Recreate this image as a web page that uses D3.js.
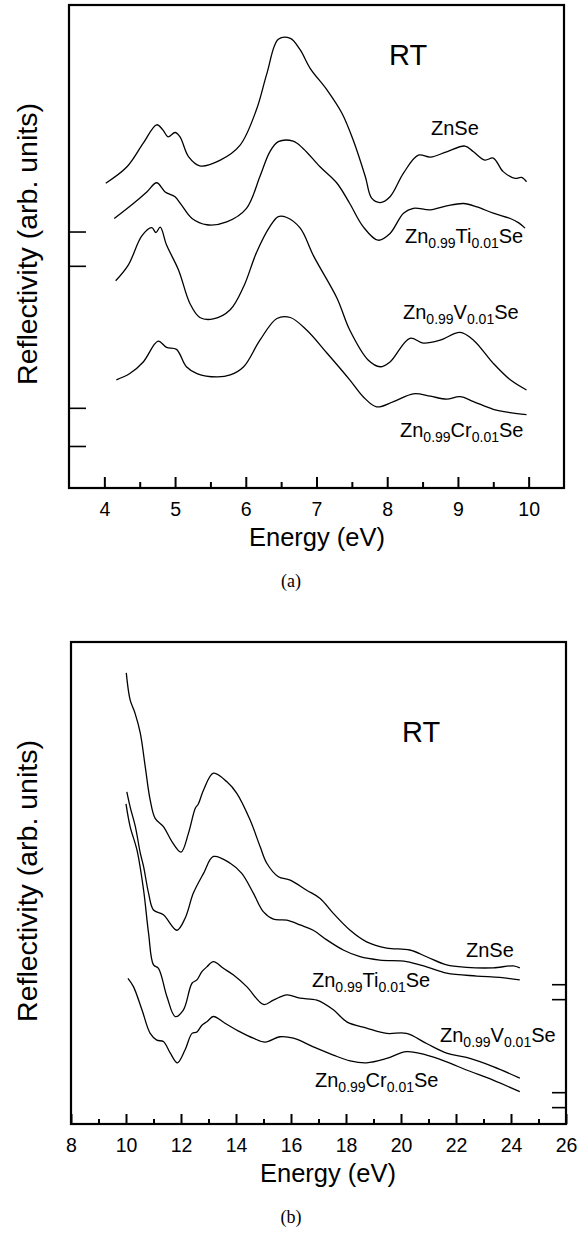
<!DOCTYPE html>
<html><head><meta charset="utf-8">
<script src="https://cdn.jsdelivr.net/npm/d3@7"></script>
<style>
body{margin:0;background:#fff}
text{font-family:"Liberation Sans",Arial,Helvetica,sans-serif;fill:#000}
</style>
</head><body>
<svg id="c" width="578" height="1243"></svg>
<script>
// ---------- DATA: panel (a), 3.5–10.5 eV ----------
const eA_ZnSe = [4.02,4.32,4.55,4.74,4.83,4.90,5.00,5.07,5.19,5.35,5.64,5.92,6.15,6.30,6.46,6.63,6.77,6.91,7.15,7.36,7.52,7.69,7.78,7.90,8.04,8.23,8.44,8.61,8.84,9.10,9.22,9.38,9.50,9.64,9.81,9.90,9.97];
const rA_ZnSe = [63.1,66.5,71.4,75.2,74.1,72.7,73.6,72.7,68.6,66.7,67.9,71.0,78.3,85.9,92.9,93.1,90.7,86.9,82.4,77.6,72.0,64.5,60.0,59.1,60.3,65.2,68.9,68.5,69.6,70.8,69.6,67.9,68.3,65.5,64.1,64.3,63.4];

const eA_Ti = [4.14,4.41,4.60,4.74,4.86,5.00,5.09,5.24,5.45,5.73,6.01,6.20,6.34,6.46,6.67,6.81,7.05,7.29,7.47,7.66,7.87,8.04,8.23,8.37,8.61,8.84,9.08,9.27,9.50,9.74,9.86,9.95];
const rA_Ti = [55.8,58.9,61.3,63.2,61.3,60.3,58.6,55.8,54.5,55.1,57.9,64.5,69.6,71.7,71.8,70.3,66.5,63.1,58.9,54.1,51.3,52.7,56.9,57.9,57.6,58.4,58.9,58.2,56.9,55.8,54.9,53.8];

const eA_V = [4.16,4.34,4.53,4.67,4.73,4.79,4.88,5.05,5.21,5.35,5.54,5.78,5.97,6.15,6.34,6.46,6.58,6.77,6.96,7.29,7.47,7.73,7.90,8.04,8.32,8.51,8.75,9.03,9.22,9.50,9.74,9.97];
const rA_V = [42.9,46.2,52.2,53.9,52.9,54.0,50.3,45.1,38.2,35.3,35.0,36.9,41.7,48.7,54.1,56.2,56.0,53.8,48.0,39.3,32.7,26.5,25.1,26.1,31.0,30.0,30.6,32.2,30.6,25.8,22.4,20.3];

const eA_Cr = [4.17,4.36,4.55,4.76,4.88,5.02,5.16,5.31,5.59,5.78,5.97,6.20,6.44,6.63,6.86,7.15,7.47,7.66,7.85,8.09,8.37,8.61,8.84,9.03,9.22,9.50,9.74,9.97];
const rA_Cr = [22.4,23.7,26.1,30.4,29.1,28.7,25.1,23.7,23.0,23.4,25.1,30.6,35.1,35.3,32.7,27.9,22.4,18.9,16.8,17.9,19.5,19.0,18.4,18.9,17.9,16.3,15.6,15.2];

// ---------- DATA: panel (b), 8–26 eV ----------
const eB_ZnSe = [10.01,10.15,10.33,10.52,10.70,10.88,11.06,11.36,11.67,12.00,12.27,12.52,12.63,12.82,13.18,13.67,14.03,14.51,14.88,15.12,15.54,15.97,16.57,17.06,17.54,18.15,18.75,19.48,20.32,20.93,21.66,22.38,23.35,24.08,24.32];
const rB_ZnSe = [93.6,88.0,85.2,81.1,74.1,67.2,63.4,61.7,58.6,56.4,60.3,65.5,66.4,69.3,72.8,71.0,68.6,63.1,57.5,54.1,51.3,50.6,48.5,46.8,43.7,40.2,37.8,36.5,36.1,34.7,33.0,32.5,32.4,32.8,32.4];

const eB_Ti = [10.03,10.15,10.34,10.52,10.64,10.82,11.00,11.36,11.85,12.15,12.45,12.82,13.18,13.79,14.21,14.63,15.00,15.36,15.85,16.33,16.81,17.30,17.90,18.51,19.23,20.20,20.93,21.66,22.75,23.59,24.32];
const rB_Ti = [68.9,65.8,61.7,56.2,53.4,47.9,44.4,43.4,40.2,42.7,47.9,52.0,55.5,54.1,52.0,47.9,44.0,42.5,42.3,41.3,40.2,38.2,36.1,34.7,34.0,33.7,32.6,31.3,30.7,30.4,29.9];

const eB_V = [10.00,10.15,10.40,10.64,10.82,11.00,11.18,11.49,11.79,12.09,12.40,12.58,12.76,12.94,13.18,13.54,13.91,14.39,15.00,15.36,15.85,16.33,16.94,17.54,18.03,18.75,19.48,20.20,20.93,21.66,22.38,23.35,24.32];
const rB_V = [66.4,61.7,56.8,48.5,39.6,33.0,32.3,26.4,22.3,23.7,29.2,29.9,31.6,32.6,33.7,32.3,30.9,28.5,24.8,25.7,26.8,26.1,25.7,23.7,21.2,19.9,18.8,18.8,16.7,14.7,13.8,11.9,9.5];

const eB_Cr = [10.07,10.27,10.58,10.88,11.12,11.36,11.61,11.87,12.15,12.40,12.58,12.76,12.94,13.18,13.60,14.15,14.63,15.06,15.60,16.09,16.81,17.54,18.15,18.75,19.48,20.20,20.93,21.66,22.38,23.35,24.32];
const rB_Cr = [30.2,28.5,23.7,18.8,17.4,17.1,14.7,12.7,15.4,18.8,19.1,20.5,21.2,22.3,20.9,19.1,17.8,17.0,18.1,17.8,16.0,14.3,13.1,12.7,13.6,15.0,14.3,12.9,11.2,9.1,6.7];

// ---------- ticks ----------
const xMajorA = [4,5,6,7,8,9,10];
const xMinorA = [4.5,5.5,6.5,7.5,8.5,9.5];
const xMajorB = [8,10,12,14,16,18,20,22,24,26];
const xMinorB = [9,11,13,15,17,19,21,23,25];
const yMarksA = [53.1,46.0,16.6,8.7];
const yMarksB = [29.0,25.9,6.6,3.5];

const svg = d3.select("#c");

function panel(cfg){
  const {left,right,top,bottom,xdom,series,xMajor,xMinor,yMarks,yMarkSide,yMarkLen,majLen,minLen} = cfg;
  const x = d3.scaleLinear().domain(xdom).range([left,right]);
  const y = d3.scaleLinear().domain([0,100]).range([bottom,top]);
  const g = svg.append("g");
  const line = d3.line().x(d=>x(d[0])).y(d=>y(d[1])).curve(d3.curveCatmullRom.alpha(0.5));
  series.forEach(s=>{
    g.append("path").datum(d3.zip(s[0],s[1])).attr("d",line)
      .attr("fill","none").attr("stroke","#000").attr("stroke-width",1.3);
  });
  const ax = g.append("g").attr("transform",`translate(0,${bottom})`)
    .call(d3.axisBottom(x).tickValues(xMajor).tickSize(-majLen).tickPadding(14).tickFormat(d3.format("d")));
  ax.select(".domain").remove();
  ax.selectAll("line").attr("stroke","#000").attr("stroke-width",2);
  ax.selectAll("text").attr("font-size",19.5).style("font-family",'"Liberation Sans",Arial,sans-serif');
  const axm = g.append("g").attr("transform",`translate(0,${bottom})`)
    .call(d3.axisBottom(x).tickValues(xMinor).tickSize(-minLen).tickFormat(""));
  axm.select(".domain").remove();
  axm.selectAll("line").attr("stroke","#000").attr("stroke-width",2);
  const yAx = yMarkSide==="left"
    ? d3.axisLeft(y).tickValues(yMarks).tickSize(-yMarkLen).tickFormat("")
    : d3.axisRight(y).tickValues(yMarks).tickSize(-yMarkLen).tickFormat("");
  const ay = g.append("g").attr("transform",`translate(${yMarkSide==="left"?left:right},0)`).call(yAx);
  ay.select(".domain").remove();
  ay.selectAll("line").attr("stroke","#000").attr("stroke-width",1.6);
  g.append("rect").attr("x",left).attr("y",top).attr("width",right-left).attr("height",bottom-top)
    .attr("fill","none").attr("stroke","#000").attr("stroke-width",2.2);
  return {x,y,g};
}

function label(g,x,y,parts){
  const t = g.append("text").attr("x",x).attr("y",y).attr("font-size",20);
  let shift = 0;
  parts.forEach(p=>{
    const sub = p[1];
    const ts = t.append("tspan").text(p[0]);
    const target = sub?5:0;
    ts.attr("dy",target-shift);
    if(sub) ts.attr("font-size",14);
    shift = target;
  });
}

// ---------- panel (a) ----------
const A = panel({left:69,right:564,top:5,bottom:488,xdom:[3.5,10.5],
  series:[[eA_ZnSe,rA_ZnSe],[eA_Ti,rA_Ti],[eA_V,rA_V],[eA_Cr,rA_Cr]],
  xMajor:xMajorA,xMinor:xMinorA,yMarks:yMarksA,yMarkSide:"left",yMarkLen:17,majLen:11,minLen:6});
A.g.append("text").attr("x",389).attr("y",65).attr("font-size",29).text("RT");
label(A.g,431,135,[["ZnSe",false]]);
label(A.g,405,243,[["Zn",false],["0.99",true],["Ti",false],["0.01",true],["Se",false]]);
label(A.g,403,319,[["Zn",false],["0.99",true],["V",false],["0.01",true],["Se",false]]);
label(A.g,400,437,[["Zn",false],["0.99",true],["Cr",false],["0.01",true],["Se",false]]);
A.g.append("text").attr("x",317).attr("y",546).attr("text-anchor","middle").attr("font-size",25.5).text("Energy (eV)");
A.g.append("text").attr("x",291).attr("y",587).attr("text-anchor","middle").attr("font-size",18)
  .style("font-family",'"Liberation Serif","Times New Roman",serif').text("(a)");
A.g.append("text").attr("transform","translate(37,244) rotate(-90)").attr("text-anchor","middle")
  .attr("font-size",28.5).text("Reflectivity (arb. units)");

// ---------- panel (b) ----------
const B = panel({left:71,right:566,top:642,bottom:1124,xdom:[8,26],
  series:[[eB_ZnSe,rB_ZnSe],[eB_Ti,rB_Ti],[eB_V,rB_V],[eB_Cr,rB_Cr]],
  xMajor:xMajorB,xMinor:xMinorB,yMarks:yMarksB,yMarkSide:"right",yMarkLen:14,majLen:10,minLen:5});
B.g.append("text").attr("x",402).attr("y",742).attr("font-size",29).text("RT");
label(B.g,466,957,[["ZnSe",false]]);
label(B.g,312,987,[["Zn",false],["0.99",true],["Ti",false],["0.01",true],["Se",false]]);
label(B.g,440,1042,[["Zn",false],["0.99",true],["V",false],["0.01",true],["Se",false]]);
label(B.g,315,1087,[["Zn",false],["0.99",true],["Cr",false],["0.01",true],["Se",false]]);
B.g.append("text").attr("x",328).attr("y",1182).attr("text-anchor","middle").attr("font-size",25.5).text("Energy (eV)");
B.g.append("text").attr("x",291).attr("y",1223).attr("text-anchor","middle").attr("font-size",18)
  .style("font-family",'"Liberation Serif","Times New Roman",serif').text("(b)");
B.g.append("text").attr("transform","translate(37,881) rotate(-90)").attr("text-anchor","middle")
  .attr("font-size",28.5).text("Reflectivity (arb. units)");
</script>
</body></html>
